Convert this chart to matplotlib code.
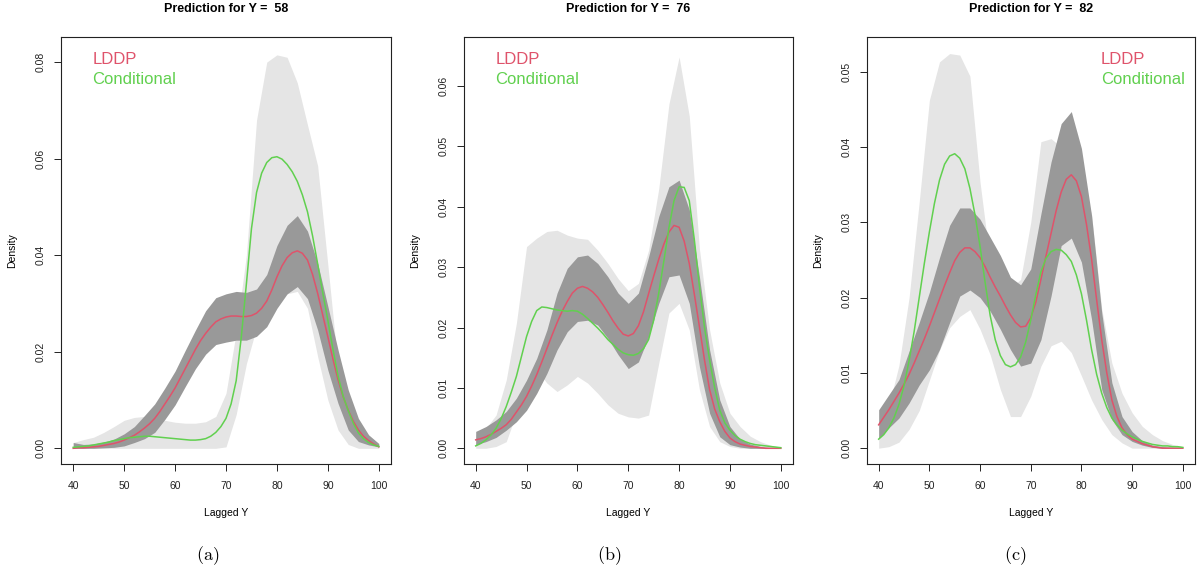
import matplotlib
matplotlib.use("Agg")
import matplotlib.pyplot as plt

# ---------------- data ----------------
# grid of the credible bands (every 2 units of Lagged Y)
band_y = [40, 42, 44, 46, 48, 50, 52, 54, 56, 58, 60, 62, 64, 66, 68, 70,
          72, 74, 76, 78, 80, 82, 84, 86, 88, 90, 92, 94, 96, 98, 100]
# grid of the density lines (every unit of Lagged Y)
line_y = [40, 41, 42, 43, 44, 45, 46, 47, 48, 49, 50, 51, 52, 53, 54, 55, 56, 57, 58, 59,
          60, 61, 62, 63, 64, 65, 66, 67, 68, 69, 70, 71, 72, 73, 74, 75, 76, 77, 78, 79,
          80, 81, 82, 83, 84, 85, 86, 87, 88, 89, 90, 91, 92, 93, 94, 95, 96, 97, 98, 99, 100]

titles = ["Prediction for Y =  58", "Prediction for Y =  76", "Prediction for Y =  82"]
sub_labels = ["(a)", "(b)", "(c)"]
legend_labels = ["LDDP", "Conditional"]

# Panel (a): Y = 58
a_light_hi = [0.0012, 0.0018, 0.0023, 0.0033, 0.0045, 0.0058, 0.0064, 0.0066, 0.0064, 0.0058, 0.0054,
              0.0052, 0.0052, 0.0055, 0.0066, 0.0114, 0.0240, 0.0400, 0.0680, 0.0800, 0.0815, 0.0810,
              0.0757, 0.0670, 0.0585, 0.0380, 0.0170, 0.0086, 0.0041, 0.0019, 0.0007]
a_light_lo = [0.0, 0.0, 0.0, 0.0, 0.0, 0.0, 0.0, 0.0, 0.0, 0.0, 0.0, 0.0, 0.0, 0.0, 0.0, 0.0003,
              0.0070, 0.0175, 0.0250, 0.0290, 0.0310, 0.0320, 0.0325, 0.0290, 0.0190, 0.0100, 0.0038,
              0.0008, 0.0, 0.0, 0.0]
a_dark_hi = [0.0012, 0.0008, 0.0009, 0.0013, 0.0019, 0.0030, 0.0045, 0.0068, 0.0092, 0.0125, 0.0160,
             0.0203, 0.0245, 0.0285, 0.0312, 0.0320, 0.0325, 0.0323, 0.0330, 0.0360, 0.0420, 0.0462,
             0.0482, 0.0450, 0.0383, 0.0294, 0.0204, 0.0121, 0.0062, 0.0028, 0.0010]
a_dark_lo = [0.0, 0.0, 0.0, 0.0001, 0.0002, 0.0005, 0.0012, 0.0020, 0.0033, 0.0060, 0.0090, 0.0128,
             0.0165, 0.0195, 0.0215, 0.0220, 0.0224, 0.0224, 0.0232, 0.0252, 0.0290, 0.0320, 0.0335,
             0.0310, 0.0245, 0.0162, 0.0093, 0.0038, 0.0014, 0.0007, 0.0003]
a_lddp = [0.0000, 0.0001, 0.0001, 0.0002, 0.0003, 0.0004, 0.0006, 0.0008, 0.0010, 0.0013,
          0.0017, 0.0022, 0.0027, 0.0034, 0.0042, 0.0051, 0.0062, 0.0076, 0.0092, 0.0108,
          0.0125, 0.0145, 0.0165, 0.0185, 0.0205, 0.0223, 0.0238, 0.0251, 0.0262, 0.0268,
          0.0272, 0.0274, 0.0274, 0.0273, 0.0273, 0.0275, 0.0280, 0.0290, 0.0305, 0.0328,
          0.0355, 0.0378, 0.0395, 0.0405, 0.0409, 0.0404, 0.0390, 0.0360, 0.0321, 0.0276,
          0.0231, 0.0185, 0.0142, 0.0107, 0.0079, 0.0056, 0.0038, 0.0025, 0.0016, 0.0009, 0.0003]
a_cond = [0.0002, 0.0003, 0.0004, 0.0005, 0.0007, 0.0009, 0.0011, 0.0013, 0.0016, 0.0018,
          0.0020, 0.0022, 0.0023, 0.0024, 0.0025, 0.0025, 0.0024, 0.0023, 0.0022, 0.0021,
          0.0020, 0.0019, 0.0018, 0.0017, 0.0017, 0.0018, 0.0020, 0.0025, 0.0033, 0.0045,
          0.0062, 0.0092, 0.0140, 0.0230, 0.0340, 0.0455, 0.0530, 0.0570, 0.0592, 0.0602,
          0.0604, 0.0599, 0.0588, 0.0573, 0.0553, 0.0525, 0.0490, 0.0440, 0.0382, 0.0322,
          0.0265, 0.0205, 0.0150, 0.0108, 0.0078, 0.0052, 0.0032, 0.0020, 0.0012, 0.0007, 0.0004]

# Panel (b): Y = 76
b_light_hi = [0.0022, 0.0033, 0.0055, 0.0113, 0.0207, 0.0334, 0.0348, 0.0359, 0.0361, 0.0353, 0.0348,
              0.0346, 0.0328, 0.0306, 0.0281, 0.0261, 0.0273, 0.0328, 0.0430, 0.0570, 0.0648, 0.0550,
              0.0330, 0.0196, 0.0108, 0.0058, 0.0036, 0.0020, 0.0011, 0.0005, 0.0002]
b_light_lo = [0.0, 0.0, 0.0003, 0.0011, 0.0058, 0.0097, 0.0130, 0.0108, 0.0094, 0.0105, 0.0119,
              0.0108, 0.0091, 0.0072, 0.0058, 0.0052, 0.0050, 0.0055, 0.0141, 0.0224, 0.0240, 0.0196,
              0.0097, 0.0036, 0.0011, 0.0003, 0.0, 0.0, 0.0, 0.0, 0.0]
b_dark_hi = [0.0028, 0.0036, 0.0047, 0.0061, 0.0083, 0.0113, 0.0149, 0.0196, 0.0257, 0.0298, 0.0317,
             0.0320, 0.0306, 0.0284, 0.0257, 0.0240, 0.0257, 0.0317, 0.0384, 0.0433, 0.0444, 0.0395,
             0.0284, 0.0163, 0.0080, 0.0036, 0.0015, 0.0007, 0.0003, 0.0001, 0.0]
b_dark_lo = [0.0006, 0.0011, 0.0018, 0.0030, 0.0044, 0.0063, 0.0091, 0.0124, 0.0163, 0.0193, 0.0210,
             0.0212, 0.0204, 0.0182, 0.0155, 0.0132, 0.0143, 0.0185, 0.0240, 0.0284, 0.0287, 0.0240,
             0.0135, 0.0058, 0.0019, 0.0006, 0.0002, 0.0, 0.0, 0.0, 0.0]
b_lddp = [0.0014, 0.0016, 0.0019, 0.0023, 0.0028, 0.0033, 0.0039, 0.0048, 0.0060, 0.0072,
          0.0086, 0.0103, 0.0122, 0.0143, 0.0165, 0.0187, 0.0208, 0.0227, 0.0243, 0.0257,
          0.0265, 0.0268, 0.0265, 0.0259, 0.0250, 0.0238, 0.0225, 0.0211, 0.0199, 0.0189,
          0.0186, 0.0190, 0.0203, 0.0226, 0.0256, 0.0285, 0.0313, 0.0338, 0.0358, 0.0369,
          0.0366, 0.0343, 0.0306, 0.0255, 0.0201, 0.0146, 0.0097, 0.0065, 0.0044, 0.0028,
          0.0017, 0.0011, 0.0007, 0.0005, 0.0003, 0.0002, 0.0001, 0.0, 0.0, 0.0, 0.0]
b_cond = [0.0004, 0.0008, 0.0014, 0.0022, 0.0033, 0.0049, 0.0069, 0.0093, 0.0119, 0.0152,
          0.0185, 0.0210, 0.0228, 0.0234, 0.0233, 0.0231, 0.0229, 0.0228, 0.0227, 0.0228,
          0.0227, 0.0222, 0.0215, 0.0207, 0.0199, 0.0190, 0.0180, 0.0172, 0.0164, 0.0158,
          0.0155, 0.0154, 0.0157, 0.0165, 0.0180, 0.0212, 0.0257, 0.0310, 0.0365, 0.0410,
          0.0433, 0.0432, 0.0410, 0.0345, 0.0268, 0.0200, 0.0146, 0.0100, 0.0063, 0.0042,
          0.0030, 0.0021, 0.0015, 0.0011, 0.0008, 0.0006, 0.0005, 0.0004, 0.0003, 0.0002, 0.0001]

# Panel (c): Y = 82
c_light_hi = [0.0024, 0.0056, 0.0110, 0.0200, 0.0327, 0.0462, 0.0513, 0.0524, 0.0522, 0.0494, 0.0353,
              0.0247, 0.0216, 0.0213, 0.0224, 0.0300, 0.0407, 0.0411, 0.0400, 0.0380, 0.0360, 0.0310,
              0.0185, 0.0113, 0.0073, 0.0047, 0.0029, 0.0018, 0.0010, 0.0005, 0.0002]
c_light_lo = [0.0, 0.0002, 0.0008, 0.0025, 0.0050, 0.0090, 0.0130, 0.0160, 0.0175, 0.0184, 0.0158,
              0.0124, 0.0078, 0.0042, 0.0042, 0.0069, 0.0109, 0.0136, 0.0142, 0.0127, 0.0096, 0.0064,
              0.0038, 0.0018, 0.0007, 0.0, 0.0, 0.0, 0.0, 0.0, 0.0]
c_dark_hi = [0.0051, 0.0071, 0.0091, 0.0129, 0.0167, 0.0207, 0.0253, 0.0296, 0.0319, 0.0319, 0.0304,
             0.0280, 0.0256, 0.0227, 0.0217, 0.0238, 0.0311, 0.0380, 0.0431, 0.0447, 0.0398, 0.0309,
             0.0180, 0.0087, 0.0042, 0.0022, 0.0010, 0.0004, 0.0002, 0.0001, 0.0]
c_dark_lo = [0.0013, 0.0027, 0.0040, 0.0060, 0.0084, 0.0104, 0.0131, 0.0167, 0.0202, 0.0210, 0.0200,
             0.0182, 0.0158, 0.0131, 0.0109, 0.0113, 0.0144, 0.0202, 0.0269, 0.0279, 0.0247, 0.0171,
             0.0078, 0.0038, 0.0018, 0.0009, 0.0004, 0.0001, 0.0, 0.0, 0.0]
c_lddp = [0.0031, 0.0041, 0.0051, 0.0062, 0.0073, 0.0085, 0.0098, 0.0113, 0.0129, 0.0145,
          0.0162, 0.0180, 0.0198, 0.0216, 0.0233, 0.0249, 0.0260, 0.0266, 0.0266, 0.0261,
          0.0253, 0.0241, 0.0227, 0.0214, 0.0202, 0.0189, 0.0177, 0.0167, 0.0161, 0.0162,
          0.0173, 0.0194, 0.0224, 0.0255, 0.0285, 0.0315, 0.0340, 0.0357, 0.0363, 0.0355,
          0.0334, 0.0297, 0.0251, 0.0197, 0.0144, 0.0100, 0.0064, 0.0042, 0.0027, 0.0018,
          0.0012, 0.0009, 0.0006, 0.0004, 0.0002, 0.0001, 0.0, 0.0, 0.0, 0.0, 0.0]
c_cond = [0.0012, 0.0018, 0.0027, 0.0040, 0.0058, 0.0083, 0.0116, 0.0155, 0.0200, 0.0245,
          0.0287, 0.0325, 0.0356, 0.0377, 0.0388, 0.0391, 0.0385, 0.0371, 0.0345, 0.0310,
          0.0268, 0.0220, 0.0176, 0.0144, 0.0123, 0.0111, 0.0108, 0.0111, 0.0121, 0.0141,
          0.0170, 0.0204, 0.0234, 0.0252, 0.0261, 0.0264, 0.0263, 0.0257, 0.0248, 0.0230,
          0.0205, 0.0170, 0.0131, 0.0098, 0.0073, 0.0054, 0.0040, 0.0031, 0.0024, 0.0019,
          0.0015, 0.0012, 0.0009, 0.0007, 0.0005, 0.0004, 0.0003, 0.0003, 0.0002, 0.0002, 0.0001]

x_ticks = [40, 50, 60, 70, 80, 90, 100]
y_ticks = [[0.00, 0.02, 0.04, 0.06, 0.08],
           [0.00, 0.01, 0.02, 0.03, 0.04, 0.05, 0.06],
           [0.00, 0.01, 0.02, 0.03, 0.04, 0.05]]
y_limits = [(-0.00325, 0.0852), (-0.0026, 0.0681), (-0.0021, 0.0546)]

panels = [
    (a_light_lo, a_light_hi, a_dark_lo, a_dark_hi, a_lddp, a_cond),
    (b_light_lo, b_light_hi, b_dark_lo, b_dark_hi, b_lddp, b_cond),
    (c_light_lo, c_light_hi, c_dark_lo, c_dark_hi, c_lddp, c_cond),
]

# ---------------- style ----------------
RED = "#DF536B"
GREEN = "#61D04F"
LIGHT = "#E5E5E5"
DARK = "#999999"
plt.rcParams['font.family'] = ['Liberation Sans', 'DejaVu Sans']
plt.rcParams['mathtext.fontset'] = 'cm'

W, H = 1197, 575
fig = plt.figure(figsize=(W / 100, H / 100), dpi=100)

# axes boxes in pixels: left, right, top, bottom
boxes = [(61, 391, 37, 464), (463.5, 793, 37, 464), (866.5, 1195, 37, 464)]
sub_x = [208, 609, 1015]
legend_x = [92.5, 495.5, 1101]

for i, (box, data) in enumerate(zip(boxes, panels)):
    l, r, t, b = box
    ax = fig.add_axes([l / W, 1 - b / H, (r - l) / W, (b - t) / H])
    lo1, hi1, lo2, hi2, lddp, cond = data
    ax.fill_between(band_y, lo1, hi1, color=LIGHT, lw=0)
    ax.fill_between(band_y, lo2, hi2, color=DARK, lw=0)
    ax.plot(line_y, lddp, color=RED, lw=1.1)
    ax.plot(line_y, cond, color=GREEN, lw=1.1)

    ax.set_xlim(37.6, 102.4)
    ax.set_ylim(*y_limits[i])
    ax.set_xticks(x_ticks)
    ax.set_xticklabels([str(v) for v in x_ticks])
    ax.set_yticks(y_ticks[i])
    ax.set_yticklabels([f"{v:.2f}" for v in y_ticks[i]], rotation=90, va='center')
    ax.tick_params(direction='out', length=5, width=0.7, labelsize=7.5, pad=6, colors='#222222')
    ax.tick_params(axis='x', pad=7)
    for s in ax.spines.values():
        s.set_linewidth(0.8)
        s.set_color('#222222')

    ax.set_xlabel("Lagged Y", fontsize=7.5)
    ax.xaxis.label.set_va('center')
    ax.xaxis.set_label_coords(0.5, -(513 - b) / (b - t))
    ax.set_ylabel("Density", fontsize=7.5)
    ax.yaxis.label.set_va('center')
    ax.yaxis.set_label_coords(-48.5 / (r - l), 0.5)

    # legend text (no box)
    fig.text(legend_x[i] / W, 1 - 59 / H, legend_labels[0], color=RED, fontsize=12,
             ha='left', va='center')
    fig.text(legend_x[i] / W, 1 - 80 / H, legend_labels[1], color=GREEN, fontsize=12,
             ha='left', va='center')

    fig.text(((l + r) / 2) / W, 1 - 9.5 / H, titles[i], fontsize=9, fontweight='bold',
             ha='center', va='center')
    fig.text(sub_x[i] / W, 1 - 556 / H, r"$\mathrm{" + sub_labels[i] + "}$", fontsize=13,
             ha='center', va='center')

fig.savefig("out.png", dpi=100)
